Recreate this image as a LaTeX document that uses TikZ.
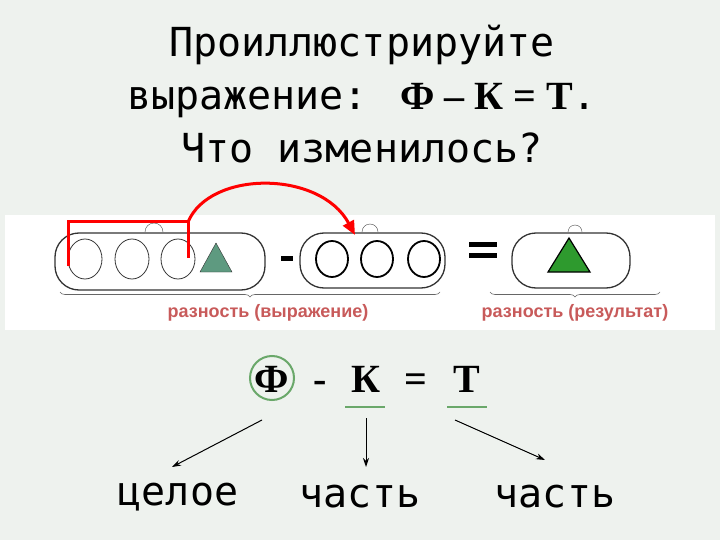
\documentclass[tikz,border=0pt]{standalone}
\usepackage{fontspec}
\setmainfont{Liberation Serif}
\newfontfamily\monof{DejaVu Sans Mono}
\newfontfamily\sansf{Liberation Sans}
\usetikzlibrary{arrows.meta,decorations.pathreplacing}
\definecolor{bgc}{HTML}{EEF2EE}
\definecolor{lab}{HTML}{C85A5A}
\definecolor{tri1}{HTML}{5E9A80}
\definecolor{tri2}{HTML}{2E9A2E}
\definecolor{ul}{HTML}{6AA86A}
\tikzset{
 pill/.style={draw=black!80,line width=1.3pt,rounded corners=24pt},
 ocirc/.style={draw=black!80,line width=0.8pt},
 bcirc/.style={draw=black,line width=1.8pt},
 mono/.style={font=\monof\fontsize{40}{44}\selectfont},
 lbl/.style={font=\sansf\bfseries\fontsize{18}{20}\selectfont,text=lab},
 eq/.style={font=\bfseries\fontsize{40}{44}\selectfont,anchor=base},
 arr/.style={line width=1pt,-{Stealth[length=9pt,width=6pt]}},
 brace/.style={draw=black!60,line width=0.6pt,decorate,decoration={brace,mirror,amplitude=5pt}}
}
\begin{document}
\begin{tikzpicture}[x=1pt,y=-1pt]
\fill[bgc] (0,0) rectangle (720,540);
\useasboundingbox (0,0) rectangle (720,540);
% title
\node[mono] (t1) at (362,45) {Проиллюстрируйте};
\node[mono,anchor=base] (t2) at (362,110) {выражение: {\rmfamily\bfseries Ф – К = Т}.};
\node[mono] (t3) at (362,148) {Что изменилось?};
% white band
\fill[white] (5,215) rectangle (715,330);
% pills
\draw[pill] (55,233) rectangle (265,290);
\draw[pill] (300,233) rectangle (445,288);
\draw[pill] (512,233) rectangle (630,288);
\draw[black!70] (145,232) arc[start angle=180,end angle=360,radius=9];
\draw[black!70] (362,232) arc[start angle=180,end angle=360,radius=8];
\draw[black!70] (568,232) arc[start angle=180,end angle=360,radius=7];
% circles
\foreach \x/\n in {85/a,132/b,178/c} \draw[ocirc] (\x,259) ellipse[x radius=17,y radius=20];
\foreach \x/\n in {332/d,377/e,424/f} \draw[bcirc] (\x,259) ellipse[x radius=16,y radius=18];
\draw[black!80,fill=tri1] (216,243) -- (232,272) -- (200,272) -- cycle;
\draw[black,line width=1.2pt,fill=tri2] (569,238) -- (590,272) -- (548,272) -- cycle;
\fill[black] (281,256) rectangle (293,261);
\fill[black] (469,242) rectangle (497,247);
\fill[black] (469,253) rectangle (497,258);
% braces
\draw[brace] (60,292) -- (440,292);
\draw[brace] (490,292) -- (660,292);
\node[lbl] (l1) at (268,313) {разность (выражение)};
\node[lbl] (l2) at (575,313) {разность (результат)};
% red bracket and arc
\coordinate (rb) at (188,222);
\coordinate (rt) at (355,235);
\draw[red,line width=3pt] (68,266) -- (68,222) -- (188,222) -- (188,258);
\draw[red,line width=3pt,-{Triangle[length=14pt,width=12pt]}] (rb) .. controls (210,170) and (320,170) .. (rt);
% equation
\node[eq] (F) at (272,392) {Ф};
\draw[ul,line width=2pt] (272,378) circle[radius=22];
\node[eq] (mm) at (320,392) {-};
\node[eq] (K) at (366,392) {К};
\node[eq] (eqq) at (416,392) {=};
\node[eq] (T) at (467,392) {Т};
\draw[ul,line width=2.5pt] (345,407) -- (385,407);
\draw[ul,line width=2.5pt] (447,407) -- (487,407);
% bottom words
\node[mono] (w1) at (178,497) {целое};
\node[mono] (w2) at (360,497) {часть};
\node[mono] (w3) at (555,497) {часть};
\coordinate (a1) at (262,420); \coordinate (a1e) at (172,467);
\coordinate (a2) at (366,418); \coordinate (a2e) at (366,467);
\coordinate (a3) at (455,420); \coordinate (a3e) at (545,460);
\draw[arr] (a1) -- (a1e);
\draw[arr] (a2) -- (a2e);
\draw[arr] (a3) -- (a3e);
\end{tikzpicture}
\end{document}
